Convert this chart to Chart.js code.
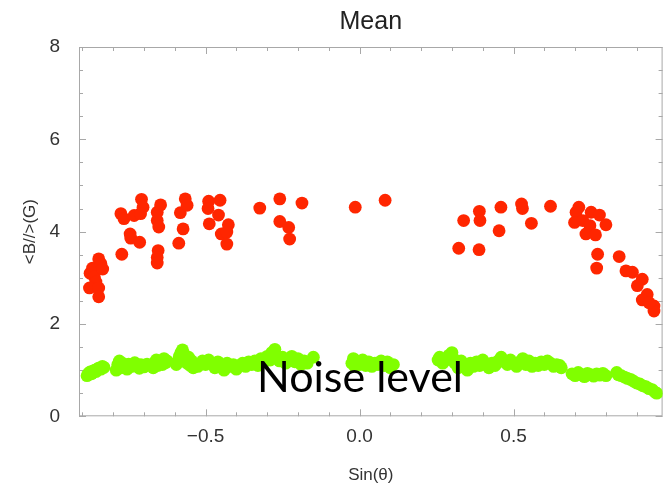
<!DOCTYPE html>
<html>
<head>
<meta charset="utf-8">
<script src="https://cdn.jsdelivr.net/npm/chart.js@4/dist/chart.umd.min.js"></script>
<style>
  html, body { margin: 0; padding: 0; background: #fff; }
  #wrap { width: 669px; height: 490px; }
</style>
</head>
<body>
<div id="wrap"><canvas id="chart"></canvas></div>
<script>
// Mean <B//> vs Sin(theta): red = field measurements, green = noise level

const redX = [
  -0.875, -0.867, -0.861, -0.856, -0.877, -0.847, -0.847, -0.847, -0.840, -0.834,
  -0.772, -0.775, -0.765, -0.732, -0.745, -0.743, -0.714, -0.708, -0.703, -0.711,
  -0.657, -0.646, -0.657, -0.652, -0.654, -0.657, -0.657, -0.587, -0.573, -0.582,
  -0.566, -0.560, -0.490, -0.492, -0.488, -0.453, -0.458, -0.426, -0.449, -0.431,
  -0.431, -0.324, -0.259, -0.187, -0.259, -0.230, -0.227, -0.014, 0.083,
  0.322, 0.338, 0.389, 0.391, 0.388, 0.459, 0.453, 0.526, 0.529, 0.558, 0.620,
  0.712, 0.703, 0.698, 0.725, 0.752, 0.779, 0.800, 0.748, 0.735, 0.766,
  0.773, 0.770, 0.843, 0.865, 0.886, 0.918, 0.902, 0.934, 0.918, 0.956, 0.956, 0.940,
];
const redY = [
  3.10, 3.21, 3.02, 2.91, 2.78, 2.78, 2.59, 3.41, 3.31, 3.19,
  3.51, 4.39, 4.28, 4.35, 3.95, 3.86, 3.77, 4.70, 4.53, 4.39,
  4.42, 4.58, 4.24, 4.10, 3.59, 3.44, 3.32, 3.75, 4.06, 4.41,
  4.71, 4.57, 4.66, 4.50, 4.17, 4.68, 4.36, 4.15, 3.95, 3.99,
  3.73, 4.51, 4.71, 4.62, 4.22, 4.09, 3.84, 4.53, 4.68,
  3.64, 4.24, 4.44, 4.24, 3.61, 4.53, 4.02, 4.60, 4.50, 4.18, 4.55,
  4.53, 4.42, 4.20, 4.24, 4.42, 4.36, 4.15, 4.13, 3.95, 3.93,
  3.51, 3.21, 3.46, 3.15, 3.12, 2.97, 2.83, 2.64, 2.52, 2.39, 2.28, 2.46,
];

const greenX = [
  -0.885, -0.88, -0.875, -0.87, -0.865, -0.86, -0.855, -0.85, -0.845, -0.84, -0.835, -0.83,
  -0.79, -0.785, -0.78, -0.775, -0.77, -0.76, -0.755, -0.75, -0.74, -0.73, -0.72, -0.715, -0.71, -0.70, -0.69,
  -0.67, -0.665, -0.66, -0.655, -0.65, -0.64, -0.635, -0.63, -0.625,
  -0.595, -0.59, -0.585, -0.58, -0.575, -0.57, -0.565, -0.56, -0.555, -0.55, -0.545, -0.54, -0.53, -0.525,
  -0.51, -0.50, -0.49, -0.48, -0.47, -0.46, -0.45, -0.44, -0.43, -0.42, -0.41, -0.40, -0.39, -0.38,
  -0.37, -0.36, -0.35, -0.34, -0.33, -0.32, -0.31, -0.30, -0.29, -0.285, -0.275, -0.27, -0.26, -0.25,
  -0.24, -0.23, -0.22, -0.21, -0.20, -0.19, -0.18, -0.17, -0.15,
  -0.025, -0.02, -0.015, -0.01, 0.0, 0.01, 0.02, 0.03, 0.04, 0.05, 0.06, 0.07, 0.08, 0.09, 0.10, 0.11,
  0.255, 0.26, 0.27, 0.28, 0.29, 0.30, 0.305, 0.31, 0.32, 0.33, 0.34, 0.35, 0.36, 0.37, 0.38, 0.39,
  0.40, 0.41, 0.42, 0.43, 0.44, 0.45, 0.46, 0.47, 0.48, 0.49, 0.50, 0.51, 0.52, 0.53, 0.54, 0.55,
  0.56, 0.57, 0.58, 0.59, 0.60, 0.61, 0.62, 0.63, 0.64, 0.65, 0.655,
  0.69, 0.70, 0.71, 0.72, 0.73, 0.74, 0.75, 0.76, 0.77, 0.78, 0.79, 0.80,
  0.835, 0.84, 0.85, 0.86, 0.87, 0.88, 0.89, 0.90, 0.91, 0.92, 0.93, 0.94, 0.95, 0.96, 0.965,
];
const greenY = [
  0.88, 0.93, 0.96, 0.92, 0.98, 1.00, 0.97, 1.03, 1.05, 1.02, 1.08, 1.06,
  1.00, 1.12, 1.20, 1.05, 1.15, 1.10, 1.02, 1.13, 1.08, 1.16, 1.10, 1.04, 1.12, 1.07, 1.13,
  1.05, 1.15, 1.22, 1.10, 1.18, 1.12, 1.25, 1.16, 1.20,
  1.12, 1.20, 1.30, 1.38, 1.44, 1.35, 1.25, 1.15, 1.28, 1.10, 1.20, 1.05, 1.12, 1.08,
  1.20, 1.12, 1.22, 1.15, 1.05, 1.18, 1.10, 1.00, 1.15, 1.08, 1.12, 1.02, 1.10, 1.15,
  1.08, 1.18, 1.12, 1.20, 1.10, 1.25, 1.18, 1.30, 1.22, 1.38, 1.45, 1.32, 1.20, 1.28,
  1.15, 1.22, 1.30, 1.18, 1.25, 1.12, 1.20, 1.15, 1.28,
  1.15, 1.25, 1.08, 1.20, 1.12, 1.22, 1.10, 1.18, 1.08, 1.15, 1.12, 1.20, 1.10, 1.18, 1.05, 1.12,
  1.22, 1.28, 1.15, 1.22, 1.32, 1.38, 1.25, 1.15, 1.05, 1.20, 1.12, 1.00, 1.15, 1.08, 1.18, 1.10,
  1.22, 1.12, 1.05, 1.15, 1.10, 1.20, 1.28, 1.18, 1.12, 1.22, 1.15, 1.08, 1.18, 1.25, 1.12, 1.20,
  1.08, 1.15, 1.10, 1.18, 1.12, 1.20, 1.15, 1.08, 1.12, 1.10, 1.05,
  0.92, 0.88, 0.95, 0.90, 0.86, 0.93, 0.90, 0.87, 0.92, 0.89, 0.93, 0.88,
  0.95, 0.90, 0.88, 0.85, 0.82, 0.80, 0.76, 0.72, 0.70, 0.66, 0.64, 0.60, 0.58, 0.52, 0.50,
];

const xRange = [-0.911, 0.984];
const yRange = [0, 8];
const noiseText = 'Noise level';

const toPoints = (xs, ys) => xs.map((x, i) => ({ x, y: ys[i] }));
const isMajor = (v, step) => Math.abs(v / step - Math.round(v / step)) < 1e-6;

const frameTicks = {
  id: 'frameTicks',
  beforeDatasetsDraw(chart) {
    const { ctx, chartArea: a, scales: { x, y } } = chart;
    ctx.save();
    ctx.strokeStyle = '#a8a8a8';
    ctx.lineWidth = 1;
    ctx.strokeRect(a.left + 0.5, a.top + 0.5, a.right - a.left - 1, a.bottom - a.top - 1);
    ctx.beginPath();
    x.ticks.forEach(t => {
      const px = Math.round(x.getPixelForValue(t.value)) + 0.5;
      const len = isMajor(t.value, 0.5) ? 7 : 4;
      ctx.moveTo(px, a.bottom); ctx.lineTo(px, a.bottom - len);
      ctx.moveTo(px, a.top); ctx.lineTo(px, a.top + len);
    });
    y.ticks.forEach(t => {
      const py = Math.round(y.getPixelForValue(t.value)) + 0.5;
      const len = isMajor(t.value, 2) ? 7 : 4;
      ctx.moveTo(a.left, py); ctx.lineTo(a.left + len, py);
      ctx.moveTo(a.right, py); ctx.lineTo(a.right - len, py);
    });
    ctx.stroke();
    ctx.restore();
  },
  afterDraw(chart) {
    const { ctx } = chart;
    ctx.save();
    ctx.font = '40px Lato';
    const size = 40 * 206 / ctx.measureText(noiseText).width;
    ctx.font = size.toFixed(1) + 'px Lato';
    ctx.fillStyle = '#000';
    ctx.textAlign = 'left';
    ctx.textBaseline = 'alphabetic';
    ctx.fillText(noiseText, 257, 392);
    ctx.restore();
  },
};

const tickFont = { family: 'Liberation Sans', size: 19 };

new Chart(document.getElementById('chart'), {
  type: 'scatter',
  data: {
    datasets: [
      {
        label: 'Mean',
        data: toPoints(redX, redY),
        backgroundColor: 'rgb(255,38,0)',
        borderWidth: 0,
        pointRadius: 6.4,
      },
      {
        label: 'Noise',
        data: toPoints(greenX, greenY),
        backgroundColor: 'rgb(128,255,0)',
        borderWidth: 0,
        pointRadius: 6.4,
      },
    ],
  },
  options: {
    responsive: true,
    maintainAspectRatio: false,
    animation: false,
    layout: { padding: { right: 1 } },
    plugins: {
      legend: { display: false },
      tooltip: { enabled: false },
      title: {
        display: true,
        text: 'Mean',
        fullSize: false,
        color: '#222',
        font: { family: 'Liberation Sans', size: 25, weight: 'normal' },
        padding: { top: 7, bottom: 10 },
      },
    },
    scales: {
      x: {
        type: 'linear',
        min: xRange[0], max: xRange[1],
        grid: { display: false },
        border: { display: false },
        ticks: {
          stepSize: 0.1,
          includeBounds: false,
          autoSkip: false,
          maxRotation: 0,
          padding: 1.5,
          color: '#333',
          font: tickFont,
          callback: v => isMajor(v, 0.5) ? v.toFixed(1).replace('-', '\u2212') : '',
        },
        title: {
          display: true,
          text: 'Sin(\u03b8)',
          color: '#333',
          font: { family: 'Liberation Sans', size: 17 },
          padding: { top: 15.5, bottom: 4 },
        },
      },
      y: {
        min: yRange[0], max: yRange[1],
        grid: { display: false },
        border: { display: false },
        ticks: {
          stepSize: 0.5,
          autoSkip: false,
          padding: 11,
          color: '#333',
          font: tickFont,
          callback: v => isMajor(v, 2) ? String(v) : '',
        },
        title: {
          display: true,
          text: '<B//>(G)',
          color: '#333',
          font: { family: 'Liberation Sans', size: 17 },
          padding: { top: 20, bottom: 0 },
        },
        afterFit: s => { s.width = 79; },
      },
    },
  },
  plugins: [frameTicks],
});
</script>
</body>
</html>
